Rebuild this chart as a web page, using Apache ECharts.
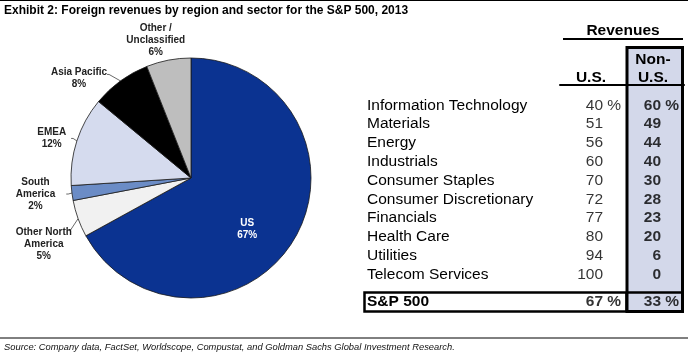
<!DOCTYPE html>
<html>
<head>
<meta charset="utf-8">
<title>Exhibit 2</title>
<script src="https://cdn.jsdelivr.net/npm/echarts@6/dist/echarts.min.js"></script>
<style>
    html,body{margin:0;padding:0;background:#fff;}
    #main{width:688px;height:353px;}
</style>
</head>
<body>
<div id="main"></div>
<script>
//--------------------data---------------------------
var regionNames = ['US','Other North\nAmerica','South\nAmerica','EMEA','Asia Pacific','Other /\nUnclassified'];
var regionValues = [67,5,2,12,8,6];
var regionColors = ['#0b3391','#f1f1f1','#6b8cc6','#d5dbee','#000000','#bebebe'];

var sectorNames = ['Information Technology','Materials','Energy','Industrials','Consumer Staples',
    'Consumer Discretionary','Financials','Health Care','Utilities','Telecom Services'];
var usShare = [40,51,56,60,70,72,77,80,94,100];
var nonUsShare = [60,49,44,40,30,28,23,20,6,0];

var totalName = ['S&P 500'];
var totalUs = [67];
var totalNonUs = [33];

var columnNames = ['U.S.','Non-\nU.S.'];
//--------------------data---------------------------

var myChart = echarts.init(document.getElementById('main'));
var font = 'Liberation Sans, Arial, sans-serif';

//--------------------table cell label-------------------
function cellLabel(bold, offsetX){
    return {
        show: true,
        position: 'inside',
        align: 'left',
        offset: [offsetX, 0],
        formatter: function(p){
            var pct = (p.dataIndex === 0) ? '{p| %}' : '';
            return '{n|' + p.value[2] + '}' + pct;
        },
        rich: {
            n: {width: 30, align: 'right', fontSize: 15.5, fontFamily: font, color: '#000', fontWeight: bold ? 'bold' : 'normal'},
            p: {align: 'right', fontSize: 15.5, fontFamily: font, color: '#000', fontWeight: bold ? 'bold' : 'normal'}
        }
    };
}
function cellData(values, col, rows){
    return values.map(function(v, i){
        return [columnNames[col], rows[i], v];
    });
}
//--------------------table cell label-------------------

//--------------------pie label nudges (Excel style placement)-------------------
var labelNudge = {
    1: {dx: 7, dy: 14},
    2: {dx: -6, dy: 0},
    4: {dx: 5, dy: 4},
    5: {align: 'center', dx: -4}
};

option = {
    animation: false,
    title: [
        {
            text: 'Exhibit 2: Foreign revenues by region and sector for the S&P 500, 2013',
            left: 4, top: 4, padding: 0,
            textStyle: {fontSize: 12, fontWeight: 'bold', fontFamily: font, color: '#000', lineHeight: 14}
        },
        {
            text: 'Revenues',
            left: 623, top: 21.5, padding: 0, textAlign: 'center',
            textStyle: {fontSize: 15.5, fontWeight: 'bold', fontFamily: font, color: '#000', lineHeight: 18}
        },
        {
            text: 'Source: Company data, FactSet, Worldscope, Compustat, and Goldman Sachs Global Investment Research.',
            left: 4, top: 341.5, padding: 0,
            textStyle: {fontSize: 9.35, fontStyle: 'italic', fontWeight: 'normal', fontFamily: font, color: '#111', lineHeight: 11}
        }
    ],
    graphic: [
        {type: 'line', shape: {x1: 0, y1: 0.5, x2: 688, y2: 0.5}, style: {stroke: '#000', lineWidth: 1}},
        {type: 'line', shape: {x1: 0, y1: 338, x2: 688, y2: 338}, style: {stroke: '#000', lineWidth: 1}},
        {type: 'line', shape: {x1: 563, y1: 39, x2: 683, y2: 39}, style: {stroke: '#000', lineWidth: 2}},
        {type: 'rect', shape: {x: 364.5, y: 292.5, width: 262, height: 19}, style: {fill: null, stroke: '#000', lineWidth: 2.5}},
        {type: 'rect', shape: {x: 627, y: 47.5, width: 55.5, height: 264}, style: {fill: '#d3d8ea', stroke: '#000', lineWidth: 3}},
        {type: 'line', shape: {x1: 627, y1: 292.5, x2: 683, y2: 292.5}, style: {stroke: '#000', lineWidth: 2.5}}
    ],
    grid: [
        {left: 560, right: 4, top: 96, height: 188},
        {left: 560, right: 4, top: 292, height: 20}
    ],
    xAxis: [
        {
            type: 'category', gridIndex: 0, data: columnNames, position: 'top', offset: 11, z: 5,
            axisLine: {show: true, lineStyle: {color: '#000', width: 2}},
            axisTick: {show: false},
            axisLabel: {interval: 0, margin: -2, fontSize: 15.5, fontWeight: 'bold', fontFamily: font, color: '#000', lineHeight: 18},
            splitLine: {show: false}
        },
        {
            type: 'category', gridIndex: 1, data: columnNames, show: false
        }
    ],
    yAxis: [
        {
            type: 'category', gridIndex: 0, data: sectorNames, inverse: true, z: 5,
            axisLine: {show: false}, axisTick: {show: false}, splitLine: {show: false},
            axisLabel: {interval: 0, align: 'left', margin: 193, fontSize: 15.5, fontFamily: font, color: '#000'}
        },
        {
            type: 'category', gridIndex: 1, data: totalName, inverse: true, z: 5,
            axisLine: {show: false}, axisTick: {show: false}, splitLine: {show: false},
            axisLabel: {interval: 0, align: 'left', margin: 193, fontSize: 15.5, fontWeight: 'bold', fontFamily: font, color: '#000'}
        }
    ],
    series: [
        //--------------------pie-------------------
        {
            name: 'Region',
            type: 'pie',
            center: [191, 178],
            radius: 120,
            startAngle: 90,
            clockwise: true,
            z: 3,
            itemStyle: {borderColor: '#1a1a1a', borderWidth: 0.8},
            label: {
                show: true,
                position: 'outside',
                overflow: 'none',
                color: '#222',
                formatter: function(p){
                    return p.name.split('\n').concat(p.value + '%').map(function(s){
                        return '{t|' + s + '}';
                    }).join('\n');
                },
                rich: {
                    t: {align: 'center', fontSize: 10, fontWeight: 'bold', fontFamily: font, lineHeight: 12}
                }
            },
            labelLine: {show: true, length: 8, length2: 2, lineStyle: {color: '#444', width: 0.8}},
            labelLayout: function(p){
                return labelNudge[p.dataIndex];
            },
            emphasis: {disabled: true},
            data: regionValues.map(function(v, i){
                var item = {name: regionNames[i], value: v, itemStyle: {color: regionColors[i]}};
                if (i === 0) {
                    item.label = {position: 'inside', color: '#fff', offset: [2, 19]};
                }
                if (i === 5) {
                    item.labelLine = {show: false, length: 20, length2: 0};
                }
                return item;
            })
        },
        //--------------------pie-------------------

        //--------------------table-------------------
        {
            type: 'scatter', xAxisIndex: 0, yAxisIndex: 0, symbolSize: 0, z: 6,
            data: cellData(usShare, 0, sectorNames),
            label: cellLabel(false, -18)
        },
        {
            type: 'scatter', xAxisIndex: 0, yAxisIndex: 0, symbolSize: 0, z: 6,
            data: cellData(nonUsShare, 1, sectorNames),
            label: cellLabel(true, -22)
        },
        {
            type: 'scatter', xAxisIndex: 1, yAxisIndex: 1, symbolSize: 0, z: 6,
            data: cellData(totalUs, 0, totalName),
            label: cellLabel(true, -18)
        },
        {
            type: 'scatter', xAxisIndex: 1, yAxisIndex: 1, symbolSize: 0, z: 6,
            data: cellData(totalNonUs, 1, totalName),
            label: cellLabel(true, -22)
        }
        //--------------------table-------------------
    ]
};

myChart.setOption(option);
</script>
</body>
</html>
